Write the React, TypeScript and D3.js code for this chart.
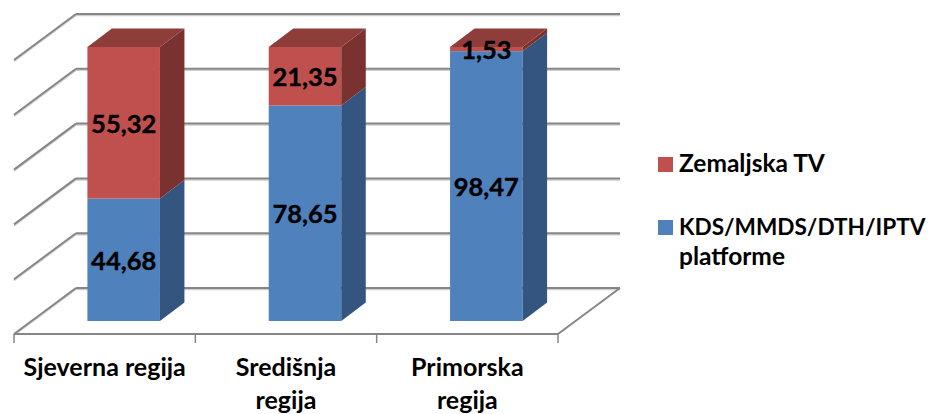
import React from "react";
import * as d3 from "d3";

const categories = ["Sjeverna regija", "Središnja regija", "Primorska regija"];
const categoryLines = [["Sjeverna regija"], ["Središnja", "regija"], ["Primorska", "regija"]];
const platforme = [44.68, 78.65, 98.47];
const zemaljska = [55.32, 21.35, 1.53];
const gridTicks = [0, 20, 40, 60, 80, 100];

const seriesKeys = ["platforme", "zemaljska"];
const seriesColors = {
  platforme: { front: "#4F81BD", side: "#34557F", top: "#3F6797" },
  zemaljska: { front: "#C0504D", side: "#7A3230", top: "#8F3D3B" },
};
// caps run wide in Lato, so the long line gets a smaller size to keep its width
const legendItems = [
  { key: "zemaljska", lines: [{ text: "Zemaljska TV", size: 24.5 }], y: 157 },
  {
    key: "platforme",
    lines: [
      { text: "KDS/MMDS/DTH/IPTV", size: 22.6 },
      { text: "platforme", size: 24.5 },
    ],
    y: 220,
  },
];

const FONT = "Lato, 'Open Sans', sans-serif";
const GRID = "#868686";
const GRID_SHADOW = "#cfcfcf";

// 3D offsets: wall behind the floor's front edge, bars sit in the middle
const wallDx = 62;
const wallDy = -46;
const barDx = 24.5;
const barDy = -18.5;

const fmt = d3.formatLocale({
  decimal: ",",
  thousands: ".",
  grouping: [3],
  currency: ["", ""],
}).format(".2f");

export default function App() {
  const rows = categories.map((c, i) => ({
    category: c,
    platforme: platforme[i],
    zemaljska: zemaljska[i],
  }));
  const stacked = d3.stack().keys(seriesKeys)(rows);

  const axisX = d3.scaleLinear().domain([0, categories.length]).range([14, 558]);
  const x = d3
    .scaleBand()
    .domain(categories)
    .range([33, 577])
    .paddingInner(0.6)
    .paddingOuter(0.3);
  const y = d3.scaleLinear().domain([0, 100]).range([321, 47]);

  // y position on the back wall for a value
  const wallY = (v: number) => y(v) - 33;
  const frontY = wallY(0) - wallDy;
  const wallLeft = axisX(0) + wallDx;
  const wallRight = axisX(categories.length) + wallDx;

  const gridLines = gridTicks.map((t) => (
    <g key={t}>
      <line x1={wallLeft} x2={wallRight} y1={wallY(t)} y2={wallY(t)} />
      <line x1={axisX(0)} y1={wallY(t) - wallDy} x2={wallLeft} y2={wallY(t)} />
    </g>
  ));

  return (
    <svg
      width={931}
      height={414}
      style={{ position: "absolute", left: 0, top: 0, background: "#fff" }}
      fontFamily={FONT}
      fontWeight={700}
    >
      <g fill="none" stroke={GRID_SHADOW} strokeWidth={1.5} transform="translate(0,1.5)">
        {gridLines}
      </g>
      <g fill="none" stroke={GRID} strokeWidth={2}>
        {gridLines}
        {/* floor */}
        <line x1={axisX(categories.length)} y1={frontY} x2={wallRight} y2={wallY(0)} />
        <line x1={axisX(0)} x2={axisX(categories.length)} y1={frontY} y2={frontY} />
        {d3.range(categories.length + 1).map((i) => (
          <line key={i} x1={axisX(i)} x2={axisX(i)} y1={frontY} y2={frontY + 9} strokeWidth={1.5} />
        ))}
      </g>

      {stacked.map((s, si) => {
        const col = seriesColors[s.key];
        return (
          <g key={s.key}>
            {s.map((d) => {
              const bx = x(d.data.category);
              const w = x.bandwidth();
              const y0 = y(d[0]);
              const y1 = y(d[1]);
              const isTop = si === stacked.length - 1;
              return (
                <g key={d.data.category}>
                  <rect x={bx} y={y1} width={w} height={y0 - y1} fill={col.front} />
                  <path
                    d={`M${bx + w},${y0}L${bx + w + barDx},${y0 + barDy}L${bx + w + barDx},${y1 + barDy}L${bx + w},${y1}Z`}
                    fill={col.side}
                  />
                  {isTop && (
                    <path
                      d={`M${bx},${y1}L${bx + barDx},${y1 + barDy}L${bx + w + barDx},${y1 + barDy}L${bx + w},${y1}Z`}
                      fill={col.top}
                    />
                  )}
                </g>
              );
            })}
          </g>
        );
      })}

      <g fontSize={25.5} textAnchor="middle" fill="#000" stroke="#000" strokeWidth={0.4}>
        {stacked.map((s) =>
          s.map((d) => (
            <text
              key={s.key + d.data.category}
              x={x(d.data.category) + x.bandwidth() / 2}
              y={(y(d[0]) + y(d[1])) / 2}
              dy="0.4em"
            >
              {fmt(d[1] - d[0])}
            </text>
          ))
        )}
      </g>

      <g fontSize={25} textAnchor="middle" fill="#000">
        {categoryLines.map((lines, i) => (
          <text key={i} x={axisX(i + 0.5)} y={376}>
            {lines.map((l, j) => (
              <tspan key={l} x={axisX(i + 0.5)} dy={j === 0 ? 0 : 33}>
                {l}
              </tspan>
            ))}
          </text>
        ))}
      </g>

      <g fill="#000">
        {legendItems.map((item) => (
          <g key={item.key}>
            <rect x={658} y={item.y} width={15} height={15} fill={seriesColors[item.key].front} />
            {item.lines.map((l, j) => (
              <text key={l.text} x={679} y={item.y + 15 + j * 30} fontSize={l.size}>
                {l.text}
              </text>
            ))}
          </g>
        ))}
      </g>
    </svg>
  );
}
